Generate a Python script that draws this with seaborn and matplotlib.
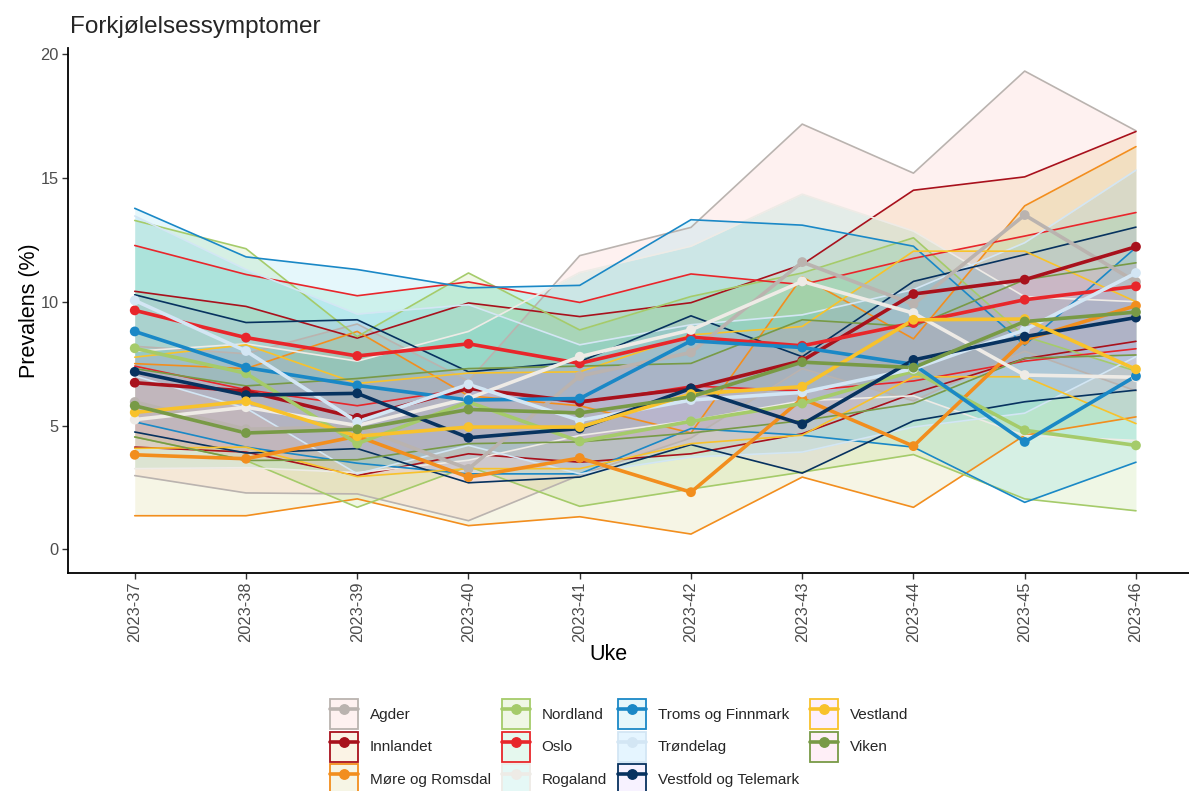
import numpy as np
import pandas as pd
import matplotlib
matplotlib.use("Agg")
import matplotlib.pyplot as plt
import seaborn as sns
from matplotlib.patches import Patch
from matplotlib.lines import Line2D
from matplotlib.legend_handler import HandlerTuple
from matplotlib.colors import to_rgba

# ---------------- data ----------------
weeks = ["2023-37", "2023-38", "2023-39", "2023-40", "2023-41",
         "2023-42", "2023-43", "2023-44", "2023-45", "2023-46"]

regions = ["Agder", "Innlandet", "Møre og Romsdal", "Nordland", "Oslo", "Rogaland",
           "Troms og Finnmark", "Trøndelag", "Vestfold og Telemark", "Vestland", "Viken"]

line_colors = ["#bab3af", "#a8111c", "#f28e1e", "#a5cb6a", "#e8262b", "#eeebe6",
               "#1a88c6", "#d3e6f4", "#07325f", "#f8c22b", "#789a46"]
fill_colors = ["#F8766D", "#DB8E00", "#AEA200", "#64B200", "#00BD5C", "#00C1A7",
               "#00BADE", "#00A6FF", "#B385FF", "#EF67EB", "#FF63B6"]

agder_mean = [5.95, 4.85, 4.95, 3.25, 7.0, 7.95, 11.6, 9.9, 13.5, 10.8]
agder_lower = [2.98, 2.28, 2.24, 1.16, 3.0, 4.5, 7.3, 6.0, 8.0, 6.4]
agder_upper = [8.2, 7.9, 9.1, 6.8, 11.86, 13.0, 17.17, 15.19, 19.31, 16.9]

innlandet_mean = [6.73, 6.39, 5.31, 6.5, 5.96, 6.5, 7.62, 10.31, 10.89, 12.22]
innlandet_lower = [4.13, 3.93, 2.98, 3.86, 3.52, 3.86, 4.67, 6.3, 7.7, 8.4]
innlandet_upper = [10.42, 9.81, 8.53, 9.95, 9.4, 9.96, 11.5, 14.5, 15.04, 16.87]

more_mean = [3.82, 3.66, 4.57, 2.92, 3.69, 2.31, 6.09, 4.17, 8.46, 9.84]
more_lower = [1.36, 1.36, 2.04, 0.96, 1.32, 0.62, 2.92, 1.70, 4.61, 5.35]
more_upper = [7.5, 7.3, 8.8, 6.2, 5.8, 4.7, 11.0, 8.5, 13.87, 16.26]

nordland_mean = [8.12, 7.11, 4.27, 5.95, 4.36, 5.17, 5.89, 7.2, 4.81, 4.20]
nordland_lower = [4.54, 3.59, 1.70, 3.35, 1.74, 2.44, 3.12, 3.83, 2.04, 1.56]
nordland_upper = [13.28, 12.14, 8.59, 11.16, 8.86, 10.21, 11.16, 12.58, 8.6, 7.2]

oslo_mean = [9.65, 8.55, 7.81, 8.30, 7.51, 8.57, 8.22, 9.14, 10.08, 10.62]
oslo_lower = [7.4, 6.45, 5.8, 6.5, 5.9, 6.6, 6.4, 6.8, 7.6, 8.1]
oslo_upper = [12.27, 11.1, 10.24, 10.8, 9.97, 11.12, 10.69, 11.75, 12.65, 13.6]

rogaland_mean = [5.24, 5.74, 5.0, 6.1, 7.78, 8.86, 10.82, 9.54, 7.04, 6.95]
rogaland_lower = [3.26, 3.3, 3.1, 3.6, 4.6, 5.2, 6.0, 6.2, 4.6, 4.4]
rogaland_upper = [8.0, 8.3, 7.6, 8.8, 11.18, 12.24, 14.34, 12.85, 10.2, 10.0]

troms_mean = [8.80, 7.34, 6.62, 6.03, 6.09, 8.42, 8.15, 7.47, 4.34, 7.0]
troms_lower = [5.15, 4.13, 3.48, 3.05, 3.05, 4.88, 4.61, 4.13, 1.90, 3.52]
troms_upper = [13.77, 11.81, 11.30, 10.56, 10.66, 13.31, 13.09, 12.24, 8.25, 12.19]

trondelag_mean = [10.05, 8.01, 5.15, 6.66, 5.21, 6.03, 6.34, 7.29, 8.86, 11.16]
trondelag_lower = [7.0, 5.7, 3.05, 4.2, 3.05, 3.73, 3.93, 4.94, 5.5, 7.78]
trondelag_upper = [13.46, 11.3, 9.5, 9.88, 8.26, 9.07, 9.47, 10.49, 12.38, 15.31]

vestfold_mean = [7.17, 6.23, 6.30, 4.51, 4.88, 6.50, 5.05, 7.65, 8.59, 9.36]
vestfold_lower = [4.74, 3.89, 4.07, 2.69, 2.92, 4.23, 3.08, 5.19, 5.96, 6.43]
vestfold_upper = [10.28, 9.16, 9.27, 7.17, 7.58, 9.43, 7.78, 10.82, 11.9, 13.01]

vestland_mean = [5.53, 5.98, 4.57, 4.94, 4.94, 6.27, 6.57, 9.27, 9.30, 7.27]
vestland_lower = [4.08, 4.13, 2.94, 3.26, 3.26, 4.27, 4.61, 6.97, 6.97, 5.08]
vestland_upper = [7.76, 8.26, 6.70, 7.12, 7.17, 8.66, 9.0, 12.04, 12.04, 10.0]

viken_mean = [5.8, 4.70, 4.85, 5.65, 5.51, 6.16, 7.56, 7.34, 9.2, 9.58]
viken_lower = [4.54, 3.59, 3.62, 4.27, 4.34, 4.7, 5.2, 5.89, 7.72, 7.85]
viken_upper = [7.3, 6.6, 6.9, 7.3, 7.4, 7.51, 9.27, 9.0, 10.89, 11.57]

means = [agder_mean, innlandet_mean, more_mean, nordland_mean, oslo_mean, rogaland_mean,
         troms_mean, trondelag_mean, vestfold_mean, vestland_mean, viken_mean]
lowers = [agder_lower, innlandet_lower, more_lower, nordland_lower, oslo_lower, rogaland_lower,
          troms_lower, trondelag_lower, vestfold_lower, vestland_lower, viken_lower]
uppers = [agder_upper, innlandet_upper, more_upper, nordland_upper, oslo_upper, rogaland_upper,
          troms_upper, trondelag_upper, vestfold_upper, vestland_upper, viken_upper]

rows = []
for r, m, lo, up in zip(regions, means, lowers, uppers):
    for i, w in enumerate(weeks):
        rows.append({"region": r, "week": w, "pos": i, "mean": m[i], "lower": lo[i], "upper": up[i]})
df = pd.DataFrame(rows)

line_pal = dict(zip(regions, line_colors))
fill_pal = dict(zip(regions, fill_colors))

# ---------------- style ----------------
sns.set_theme(style="white")
plt.rcParams["font.family"] = ["Liberation Sans", "DejaVu Sans"]

W, H = 1189, 791
fig = plt.figure(figsize=(W / 100, H / 100), dpi=100)
ax_left, ax_right, ax_top, ax_bottom = 68, 1202.7, 48.3, 572.7
ax = fig.add_axes([ax_left / W, 1 - ax_bottom / H, (ax_right - ax_left) / W, (ax_bottom - ax_top) / H])

# ribbons
for r in regions:
    sub = df[df.region == r]
    ax.fill_between(sub["pos"], sub["lower"], sub["upper"], color=fill_pal[r],
                    alpha=0.1, linewidth=0, zorder=1)
    sns.lineplot(data=sub, x="pos", y="lower", color=line_pal[r], linewidth=1.2,
                 estimator=None, sort=False, legend=False, ax=ax, zorder=1.5)
    sns.lineplot(data=sub, x="pos", y="upper", color=line_pal[r], linewidth=1.2,
                 estimator=None, sort=False, legend=False, ax=ax, zorder=1.5)

# main lines and points
sns.lineplot(data=df, x="pos", y="mean", hue="region", palette=line_pal, linewidth=2.6,
             estimator=None, sort=False, legend=False, ax=ax, zorder=3)
sns.scatterplot(data=df, x="pos", y="mean", hue="region", palette=line_pal, s=50,
                linewidth=0, legend=False, ax=ax, zorder=4)

ax.set_xlim(-0.6, len(weeks) - 1 + 0.6)
ax.set_ylim(-0.94, 20.23)
ax.set_xticks(range(len(weeks)))
ax.set_xticklabels(weeks, rotation=90)
ax.set_yticks([0, 5, 10, 15, 20])
ax.set_yticklabels(["0", "5", "10", "15", "20"])

for s in ["top", "right"]:
    ax.spines[s].set_visible(False)
for s in ["left", "bottom"]:
    ax.spines[s].set_color("black")
    ax.spines[s].set_linewidth(1.3)
ax.tick_params(axis="both", bottom=True, left=True, length=4, width=1, color="#333333",
               labelcolor="#4D4D4D", labelsize=11.8, direction="out", pad=2.5)
ax.grid(False)
ax.set_facecolor("white")

ax.set_xlabel("Uke", fontsize=15.5, color="black", va="center")
ax.xaxis.set_label_coords((608 - ax_left) / (ax_right - ax_left), -(655 - ax_bottom) / (ax_bottom - ax_top))
ax.set_ylabel("Prevalens (%)", fontsize=15.5, color="black", va="center")
ax.yaxis.set_label_coords(-(68 - 30) / (ax_right - ax_left), 0.5)

fig.text(70 / W, 1 - 33 / H, "Forkjølelsessymptomer", fontsize=17.5, ha="left", va="baseline")

# legend
handles = []
for r in regions:
    p = Patch(facecolor=to_rgba(fill_pal[r], 0.1), edgecolor=line_pal[r], linewidth=1.3)
    l = Line2D([], [], color=line_pal[r], linewidth=2.6, marker="o", markersize=6.8)
    handles.append((p, l))
fig.legend(handles, regions, ncol=4, loc="upper left",
           bbox_to_anchor=(330 / W, 1 - 699 / H), bbox_transform=fig.transFigure,
           frameon=False, fontsize=11, handlelength=1.83, handleheight=2.64,
           handletextpad=0.78, columnspacing=0.72, labelspacing=0.18,
           borderpad=0, borderaxespad=0,
           handler_map={tuple: HandlerTuple(ndivide=1)})

fig.savefig("out.png", dpi=100, facecolor="white")
